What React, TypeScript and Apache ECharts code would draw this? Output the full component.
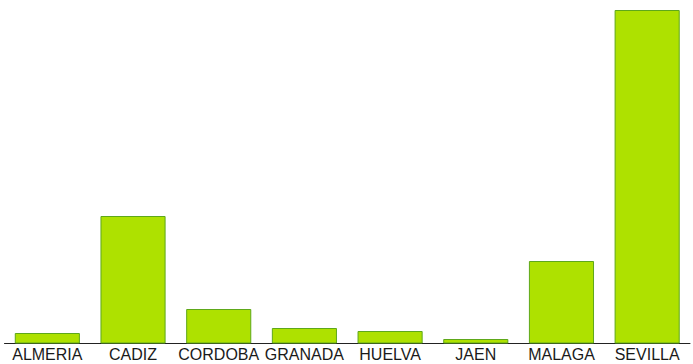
import React, { useEffect, useRef } from "react";
import * as echarts from "echarts";

const categories = ["ALMERIA", "CADIZ", "CORDOBA", "GRANADA", "HUELVA", "JAEN", "MALAGA", "SEVILLA"];
const values = [10.5, 127.5, 34.5, 15.5, 12.5, 4.5, 82.5, 333.5];

export default function App() {
  const ref = useRef<HTMLDivElement>(null);
  useEffect(() => {
    const chart = echarts.init(ref.current!, null, { renderer: "svg" });
    chart.setOption({
      animation: false,
      grid: { left: 4.5, right: 3, top: 10, bottom: 20.5, containLabel: false },
      xAxis: {
        type: "category",
        data: categories,
        axisLine: { lineStyle: { color: "#222", width: 1 } },
        axisTick: { show: false },
        axisLabel: {
          interval: 0,
          color: "#1a1a1a",
          fontFamily: "Liberation Sans, Arial, sans-serif",
          fontSize: 16,
          margin: 3,
        },
      },
      yAxis: {
        type: "value",
        min: 0,
        max: 333.5,
        show: false,
        splitLine: { show: false },
      },
      series: [
        {
          type: "bar",
          data: values,
          barCategoryGap: "24%",
          itemStyle: { color: "#aee100", borderColor: "#5ea81a", borderWidth: 1 },
        },
      ],
    });
    return () => chart.dispose();
  }, []);
  return <div ref={ref} style={{ width: 693, height: 364, position: "absolute", left: 0, top: 0 }} />;
}
